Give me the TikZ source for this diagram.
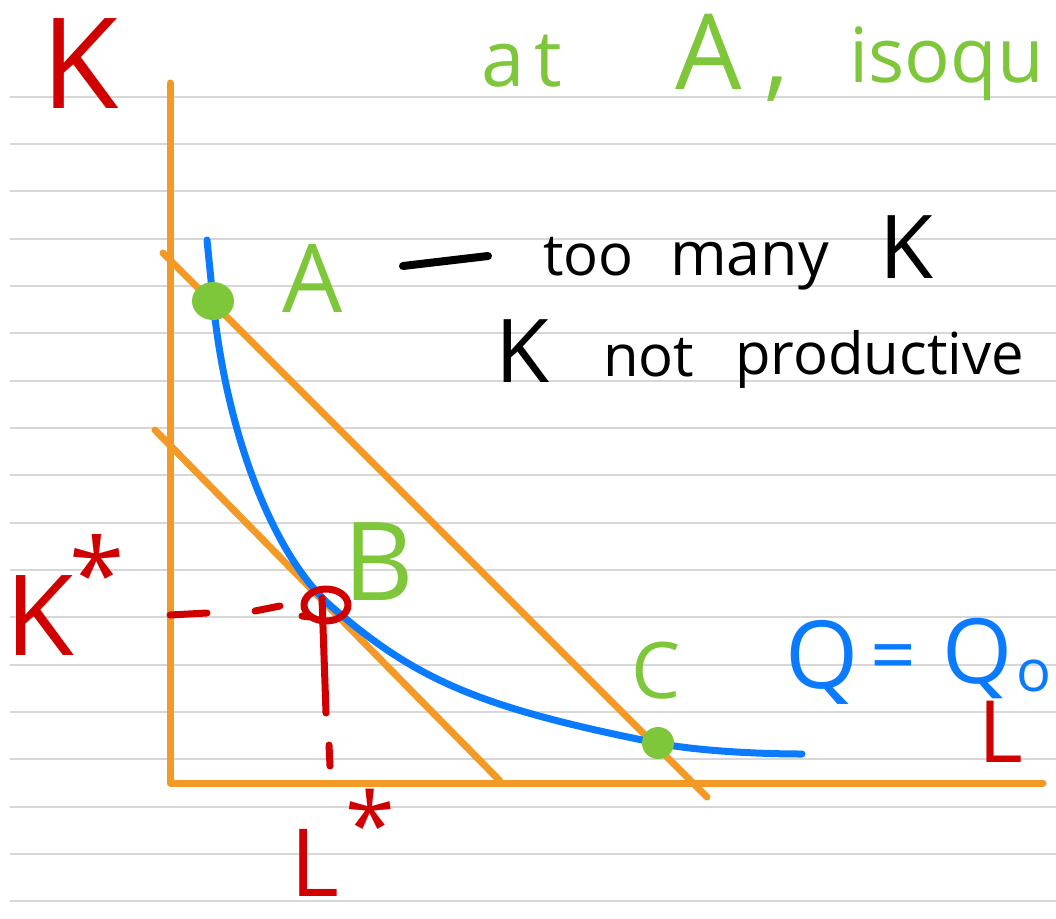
\documentclass[tikz,border=0pt]{standalone}
\usepackage{fontspec}
\setmainfont{Open Sans}
\definecolor{penorange}{RGB}{243,154,38}
\definecolor{penblue}{RGB}{10,123,255}
\definecolor{pengreen}{RGB}{126,198,58}
\definecolor{penred}{RGB}{209,0,0}
\definecolor{ruled}{RGB}{215,215,215}
\newcommand\fsz[1]{\fontsize{#1}{#1}\selectfont}
\tikzset{
  ruleline/.style={draw=ruled, line width=2pt},
  axisline/.style={draw=penorange, line width=7pt, line cap=round, line join=round},
  budget/.style={draw=penorange, line width=7pt, line cap=round},
  isoq/.style={draw=penblue, line width=7pt, line cap=round},
  redpen/.style={draw=penred, line width=7pt, line cap=round, line join=round},
  blackpen/.style={draw=black, line width=8pt, line cap=round},
  lbl/.style={inner sep=0pt, anchor=base west},
}
\begin{document}
\begin{tikzpicture}[x=1pt,y=-1pt]
\useasboundingbox (0,0) rectangle (1056,918);
\fill[white] (0,0) rectangle (1056,918);
% ruled paper
\foreach \k in {0,...,17}{
  \draw[ruleline] (10,{96.7+47.33*\k}) -- (1056,{96.7+47.33*\k});
}
% axes
\coordinate (ytop) at (170,83);
\coordinate (origin) at (170,783);
\coordinate (xend) at (1043,783);
\draw[axisline] (ytop) -- (origin) -- (xend);
% budget lines
\coordinate (b1s) at (163,253);
\coordinate (b1e) at (707,797);
\coordinate (b2s) at (155,430);
\coordinate (b2e) at (500,781);
\draw[budget] (b1s) -- (b1e);
\draw[budget] (b2s) -- (b2e);
% isoquant
\coordinate (qs) at (207,240);
\coordinate (pA) at (213,300);
\coordinate (pB) at (332,607);
\coordinate (pC) at (657,743);
\coordinate (qe) at (802,754);
\draw[isoq] (qs) .. controls (210,270) and (211,280) .. (pA)
  .. controls (226,434) and (274,557) .. (pB)
  .. controls (417,681) and (482,708) .. (pC)
  .. controls (697,751) and (760,754) .. (qe);
% points A and C
\fill[pengreen] (213,301) ellipse [x radius=21, y radius=19];
\fill[pengreen] (658,743) circle [radius=16];
% B marker and dashed guides
\coordinate (Bpt) at (326,605);
\draw[redpen] (Bpt) ellipse [x radius=22, y radius=16];
\draw[redpen] (302,616) -- (310,617);
\draw[redpen] (322,598) -- (326,713);
\draw[redpen] (329,745) -- (330,766);
\draw[redpen] (170,615) -- (207,613);
\draw[redpen] (255,611) -- (280,606);
% black dash
\draw[blackpen] (403,266) -- (488,256);
% axis labels
\node[lbl, text=penred, font=\fsz{126}] (Klab) at (41,108) {K};
\node[lbl, text=penred, font=\fsz{86}] (Llab) at (978,762) {L};
\node[lbl, text=penred, font=\fsz{112}] (Kstar) at (5,655) {K};
\node[lbl, text=penred, font=\fsz{100}] (Kstarst) at (69,610) {*};
\node[lbl, text=penred, font=\fsz{94}] (Lstar) at (290,896) {L};
\node[lbl, text=penred, font=\fsz{90}] (Lstarst) at (345,857) {*};
% point labels
\node[lbl, text=pengreen, font=\fsz{95}] (Alab) at (282,312) {A};
\node[lbl, text=pengreen, font=\fsz{109}] (Blab) at (343,600) {B};
\node[lbl, text=pengreen, font=\fsz{78}] (Clab) at (631,698) {C};
% title
\node[lbl, text=pengreen, font=\fsz{78}] (t1) at (481,86) {a\hspace{10pt}t};
\node[lbl, text=pengreen, font=\fsz{105}] (t2) at (675,89) {A};
\node[lbl, text=pengreen, font=\fsz{100}] (t3) at (764,88) {,};
\node[lbl, text=pengreen, font=\fsz{76}] (t4) at (849,82) {isoqu};
% notes
\node[lbl, font=\fsz{58}] (n1) at (543,275) {too};
\node[lbl, font=\fsz{61}] (n2) at (670,275) {many};
\node[lbl, font=\fsz{88}] (n3) at (879,278) {K};
\node[lbl, font=\fsz{88}] (n4) at (495,382) {K};
\node[lbl, font=\fsz{58}] (n5) at (603,376) {not};
\node[lbl, font=\fsz{58}] (n6) at (735,374) {productive};
% isoquant label
\node[lbl, text=penblue, font=\fsz{94}] (q1) at (785,688) {Q};
\node[lbl, text=penblue, font=\fsz{80}] (q2) at (870,683) {=};
\node[lbl, text=penblue, font=\fsz{90}] (q3) at (942,683) {Q};
\node[lbl, text=penblue, font=\fsz{58}] (q4) at (1016,691) {o};
\end{tikzpicture}
\end{document}
